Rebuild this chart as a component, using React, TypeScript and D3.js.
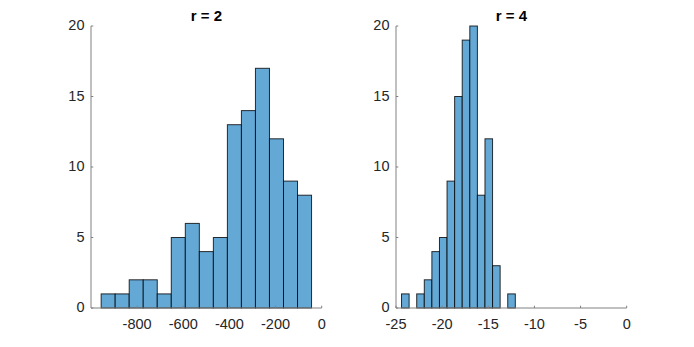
import React, { useEffect, useRef } from "react";
import * as d3 from "d3";

// histogram counts
const leftCounts = [1, 1, 2, 2, 1, 5, 6, 4, 5, 13, 14, 17, 12, 9, 8];
const leftBinStart = -956;
const leftBinWidth = 60.8;
const leftXTicks = [-800, -600, -400, -200, 0];

const rightCounts = [1, 0, 1, 2, 4, 5, 9, 15, 19, 20, 8, 12, 3, 0, 1];
const rightBinStart = -24.4;
const rightBinWidth = 0.822;
const rightXTicks = [-25, -20, -15, -10, -5, 0];

const yTicks = [0, 5, 10, 15, 20];

const App = () => {
  const chartRef = useRef<HTMLDivElement>(null);

  useEffect(() => {
    drawChart();
  }, []);

  const drawChart = () => {
    if (!chartRef.current) return;
    chartRef.current.innerHTML = "";
    const width = 694;
    const height = 347;
    const marginTop = 26;
    const plotBottom = 308;

    const svg = d3
      .create("svg")
      .attr("width", width)
      .attr("height", height)
      .attr("viewBox", [0, 0, width, height])
      .style("font-family", "Arial, 'Liberation Sans', sans-serif")
      .style("display", "block");

    svg.append("rect").attr("width", width).attr("height", height).attr("fill", "white");

    const panels = [
      {
        title: "r = 2",
        counts: leftCounts,
        start: leftBinStart,
        binWidth: leftBinWidth,
        domain: [-1000, 0],
        ticks: leftXTicks,
        left: 91,
        right: 321.7,
      },
      {
        title: "r = 4",
        counts: rightCounts,
        start: rightBinStart,
        binWidth: rightBinWidth,
        domain: [-25, 0],
        ticks: rightXTicks,
        left: 396,
        right: 626.7,
      },
    ];

    const y = d3.scaleLinear().domain([0, 20]).range([plotBottom, marginTop]);

    panels.forEach((p) => {
      const x = d3.scaleLinear().domain(p.domain).range([p.left, p.right]);
      const bins = p.counts.map((c, i) => ({
        x0: p.start + i * p.binWidth,
        x1: p.start + (i + 1) * p.binWidth,
        count: c,
      }));

      const g = svg.append("g");

      // bars
      g.append("g")
        .selectAll()
        .data(bins.filter((d) => d.count > 0))
        .join("rect")
        .attr("x", (d) => x(d.x0))
        .attr("y", (d) => y(d.count))
        .attr("width", (d) => x(d.x1) - x(d.x0))
        .attr("height", (d) => y(0) - y(d.count))
        .attr("fill", "#64a8d6")
        .attr("stroke", "#000")
        .attr("stroke-opacity", 0.8)
        .attr("stroke-width", 1);

      // axes (MATLAB style: inward ticks, box off)
      const axisColor = "#808080";
      const tickLen = 2.3;

      g.append("line")
        .attr("x1", p.left)
        .attr("x2", p.left)
        .attr("y1", marginTop)
        .attr("y2", plotBottom)
        .attr("stroke", axisColor);
      g.append("line")
        .attr("x1", p.left)
        .attr("x2", p.right)
        .attr("y1", plotBottom)
        .attr("y2", plotBottom)
        .attr("stroke", axisColor);

      g.append("g")
        .selectAll()
        .data(yTicks)
        .join("line")
        .attr("x1", p.left)
        .attr("x2", p.left + tickLen)
        .attr("y1", (d) => y(d))
        .attr("y2", (d) => y(d))
        .attr("stroke", axisColor);

      g.append("g")
        .selectAll()
        .data(p.ticks)
        .join("line")
        .attr("x1", (d) => x(d))
        .attr("x2", (d) => x(d))
        .attr("y1", plotBottom)
        .attr("y2", plotBottom - tickLen)
        .attr("stroke", axisColor);

      g.append("g")
        .attr("fill", "#262626")
        .attr("font-size", "14.5px")
        .attr("text-anchor", "end")
        .selectAll()
        .data(yTicks)
        .join("text")
        .attr("x", p.left - 6.5)
        .attr("y", (d) => y(d))
        .attr("dy", "0.3em")
        .text((d) => d3.format("")(d));

      g.append("g")
        .attr("fill", "#262626")
        .attr("font-size", "14.5px")
        .attr("text-anchor", "middle")
        .selectAll()
        .data(p.ticks)
        .join("text")
        .attr("x", (d) => x(d))
        .attr("y", plotBottom + 20.5)
        .text((d) => (d < 0 ? "-" + Math.abs(d) : String(d)));

      g.append("text")
        .attr("x", (p.left + p.right) / 2)
        .attr("y", 20.7)
        .attr("text-anchor", "middle")
        .attr("font-weight", "bold")
        .attr("font-size", "15px")
        .attr("fill", "#000")
        .text(p.title);
    });

    chartRef.current.appendChild(svg.node()!);
  };

  return (
    <div
      ref={chartRef}
      style={{ position: "absolute", left: 0, top: 0, width: 694, height: 347 }}
    ></div>
  );
};

export default App;
